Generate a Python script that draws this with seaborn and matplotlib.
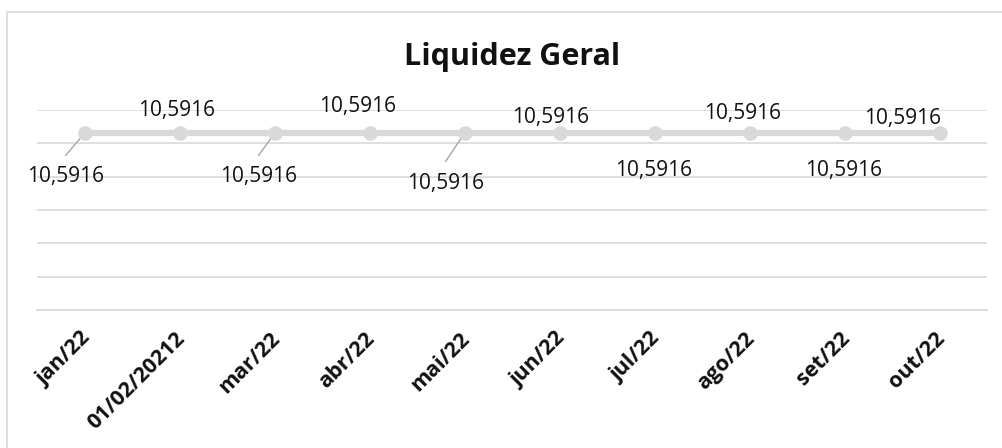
import numpy as np
import pandas as pd
import matplotlib
matplotlib.use("Agg")
import matplotlib.pyplot as plt
import matplotlib.transforms as mtransforms
from matplotlib.patches import Rectangle
import seaborn as sns

# data
months = ['jan/22', '01/02/20212', 'mar/22', 'abr/22', 'mai/22',
          'jun/22', 'jul/22', 'ago/22', 'set/22', 'out/22']
liquidez = [10.5916, 10.5916, 10.5916, 10.5916, 10.5916,
            10.5916, 10.5916, 10.5916, 10.5916, 10.5916]
value_labels = ['10,5916'] * len(months)

# label placement (offset in pixels from the point), leader line end or None
label_offsets = [(-19, -43), (-3, 23), (-16, -43), (-12, 27), (-19, -50),
                 (-9, 16), (-1, -37), (-7, 20), (-1, -37), (-37, 15)]
leader_ends = [(-19, -22), None, (-16, -22), None, (-19, -28),
               None, None, None, None, None]

sns.set_style('white')
plt.rcParams['font.family'] = ['Open Sans', 'DejaVu Sans']

df = pd.DataFrame({'mes': months, 'valor': liquidez})
df['pos'] = np.arange(len(df))

fig = plt.figure(figsize=(10.03, 4.48), dpi=100)
ax = fig.add_axes([37 / 1003, 1 - 310 / 448, 950 / 1003, 200 / 448])

grey = '#D9D9D9'
sns.lineplot(data=df, x='pos', y='valor', ax=ax, color=grey, linewidth=4.5,
             marker='o', markersize=10.5, markeredgewidth=0, zorder=3)

for i, (lab, off) in enumerate(zip(value_labels, label_offsets)):
    if leader_ends[i] is not None:
        ax.annotate('', xy=(df['pos'][i], df['valor'][i]), xytext=leader_ends[i],
                    textcoords='offset pixels',
                    arrowprops=dict(arrowstyle='-', color='#A6A6A6', lw=1,
                                    shrinkA=0, shrinkB=2), zorder=2)
    ax.annotate(lab, xy=(df['pos'][i], df['valor'][i]), xytext=off,
                textcoords='offset pixels', ha='center', va='center',
                fontsize=15, color='#111111', zorder=4)

ax.set_xlim(-0.5, len(months) - 0.5)
ax.set_ylim(0, 12)
ax.set_yticks(np.arange(0, 13, 2))
ax.set_yticklabels([])
ax.yaxis.grid(True, color=grey, linewidth=1.2)
ax.tick_params(axis='y', length=0)

ax.set_xticks(df['pos'])
ax.set_xticklabels(months, rotation=45, ha='right', rotation_mode='anchor',
                   fontsize=15.5, fontweight='bold', color='#111111')
ax.set_xticks(np.arange(-0.5, len(months), 1), minor=True)
ax.tick_params(axis='x', which='major', length=0, pad=13)
ax.tick_params(axis='x', which='minor', length=6, width=1.2, color=grey,
               direction='out')
shift = mtransforms.ScaledTranslation(-5 / 100, 0, fig.dpi_scale_trans)
for t in ax.get_xticklabels():
    t.set_transform(t.get_transform() + shift)
ax.set_xlabel('')
ax.set_ylabel('')

for side in ['top', 'left', 'right']:
    ax.spines[side].set_visible(False)
ax.spines['bottom'].set_color(grey)
ax.spines['bottom'].set_linewidth(1.2)

fig.text(512 / 1003, 1 - 57 / 448, 'Liquidez Geral', ha='center', va='center',
         fontsize=22, fontweight='bold', color='#111111')

fig.patches.append(Rectangle((7.5 / 1003, -0.1), 1.2, 1 - 11.5 / 448 + 0.1,
                             transform=fig.transFigure, fill=False,
                             edgecolor=grey, linewidth=1.2))

fig.savefig('out.png', dpi=100, facecolor='white')
